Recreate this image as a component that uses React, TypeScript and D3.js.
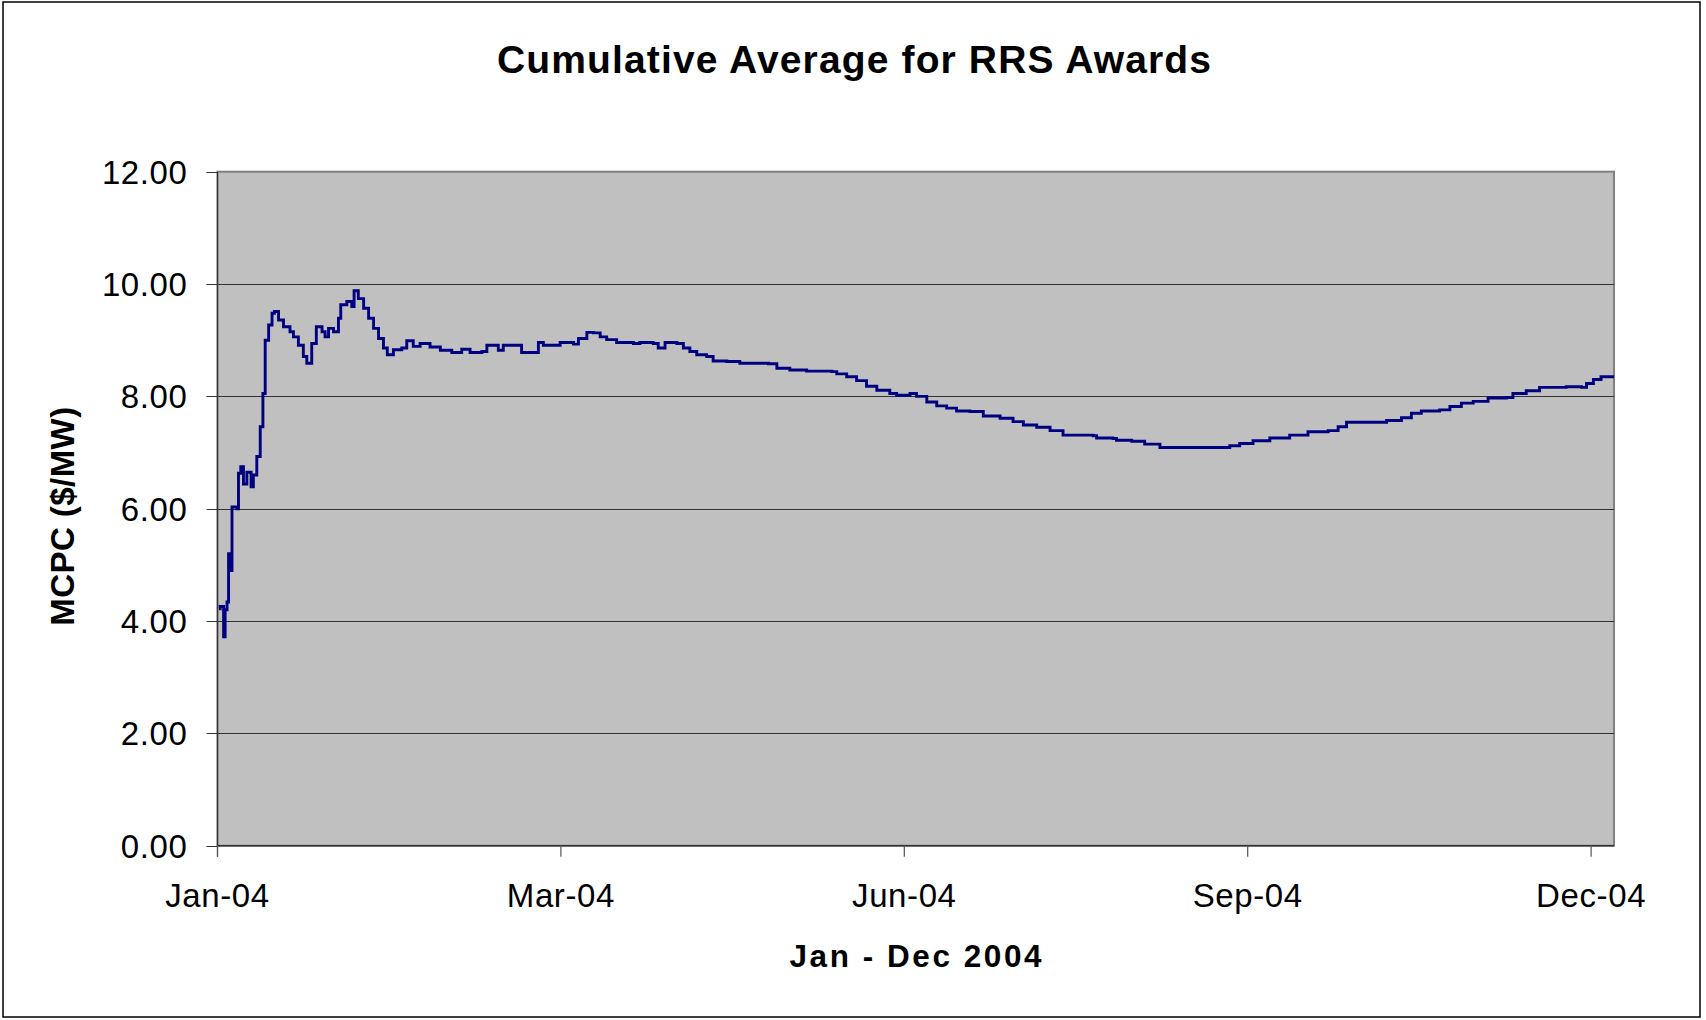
import React from "react";
import * as d3 from "d3";

// Day offsets from 2004-01-01 and cumulative average MCPC values ($/MW)
const dayOffsets: number[] = [
  0.4, 0.7, 1.6, 2.0, 2.5, 2.9, 3.5, 3.8, 5.1, 5.5, 6.1, 6.8, 7.7, 8.8, 9.4, 10.3, 11.2, 11.9,
  12.5, 13.4, 14.3, 14.9, 16.0, 17.3, 19.0, 19.9, 21.2, 22.5, 23.4, 24.1, 24.7, 25.9, 27.4, 28.2,
  29.1, 30.4, 31.7, 32.3, 33.9, 35.2, 35.8, 36.9, 38.3, 39.6, 40.9, 42.2, 43.5, 44.5, 46.1, 48.3,
  49.6, 51.3, 53.1, 55.7, 58.4, 61.4, 64.0, 66.2, 69.3, 70.6, 73.6, 74.9, 78.4, 79.7, 82.8, 84.1,
  85.4, 89.8, 93.3, 94.6, 96.8, 98.5, 100.3, 102.0, 104.6, 109.0, 110.7, 114.2, 115.5, 117.3, 120.4,
  122.1, 123.8, 125.6, 128.2, 129.9, 133.5, 136.9, 140.4, 144.4, 146.6, 150.0, 154.4, 161.0, 162.3,
  164.9, 167.5, 170.1, 172.8, 176.2, 178.0, 181.5, 183.2, 185.9, 188.5, 191.1, 193.7, 197.2, 200.7,
  205.1, 208.5, 211.2, 214.7, 218.2, 221.6, 229.5, 230.4, 234.7, 235.6, 239.6, 243.0, 247.0, 264.9,
  265.3, 267.9, 271.4, 275.8, 281.0, 285.8, 291.1, 293.7, 295.9, 306.4, 310.3, 312.9, 315.5, 320.3,
  323.0, 326.0, 329.1, 333.0, 337.8, 339.5, 343.0, 346.5, 353.5, 357.5, 358.8, 360.6, 362.6, 366.0,
];
const mcpcValues: number[] = [
  4.22, 4.26, 3.72, 4.2, 4.34, 5.2, 4.9, 6.03, 6.0, 6.63, 6.75, 6.44, 6.65, 6.39, 6.6, 6.93, 7.46, 8.05,
  9.0, 9.27, 9.48, 9.51, 9.36, 9.24, 9.15, 9.06, 8.91, 8.71, 8.59, 8.59, 8.94, 9.24, 9.15, 9.06,
  9.21, 9.15, 9.39, 9.63, 9.69, 9.6, 9.88, 9.74, 9.57, 9.39, 9.21, 9.03, 8.86, 8.74, 8.83, 8.86,
  8.99, 8.89, 8.94, 8.88, 8.82, 8.78, 8.84, 8.78, 8.8, 8.91, 8.82, 8.91, 8.91, 8.78, 8.78, 8.96,
  8.91, 8.96, 8.93, 9.03, 9.14, 9.13, 9.06, 9.01, 8.96, 8.94, 8.96, 8.94, 8.86, 8.96, 8.94,
  8.86, 8.8, 8.74, 8.71, 8.63, 8.62, 8.59, 8.59, 8.58, 8.5, 8.47, 8.45, 8.44, 8.4,
  8.35, 8.28, 8.18, 8.11, 8.05, 8.02, 8.05, 8.0, 7.9, 7.83, 7.79, 7.74, 7.73, 7.65,
  7.61, 7.55, 7.49, 7.45, 7.39, 7.31, 7.3, 7.26, 7.25, 7.22, 7.2, 7.15, 7.09, 7.09,
  7.12, 7.16, 7.21, 7.26, 7.31, 7.37, 7.39, 7.46, 7.54, 7.57, 7.62, 7.7, 7.74, 7.76,
  7.82, 7.88, 7.91, 7.97, 7.98, 8.05, 8.1, 8.16, 8.17, 8.16, 8.23, 8.3, 8.35, 8.35,
];

const yTickValues: number[] = [0, 2, 4, 6, 8, 10, 12];
const xTickDayOffsets: number[] = [0, 90, 180, 270, 360];

const titleText = "Cumulative Average for RRS Awards";
const yAxisTitle = "MCPC ($/MW)";
const xAxisTitle = "Jan - Dec 2004";

const FONT = "'Liberation Sans', Arial, Helvetica, sans-serif";

export default function App() {
  const W = 1706;
  const H = 1020;
  const left = 217.5;
  const right = 1614;
  const top = 171.7;
  const bottom = 845.7;

  const start = new Date(2004, 0, 1);
  const end = new Date(2005, 0, 1);
  const x = d3.scaleTime().domain([start, end]).range([left, right]);
  const y = d3.scaleLinear().domain([0, 12]).range([bottom, top]);

  const toDate = (d: number) => new Date(start.getTime() + d * 86400000);
  const data = dayOffsets.map((d, i) => ({ date: toDate(d), v: mcpcValues[i] }));

  const line = d3
    .line<{ date: Date; v: number }>()
    .x((d) => x(d.date))
    .y((d) => y(d.v))
    .curve(d3.curveStepAfter);

  const fmtX = d3.timeFormat("%b-%y");

  return (
    <svg
      width={W}
      height={H}
      style={{ position: "absolute", left: 0, top: 0, display: "block", background: "#fff" }}
      fontFamily={FONT}
    >
      <rect x={0} y={0} width={W} height={H} fill="#fff" />
      <rect x={3} y={2} width={1697} height={1015} fill="#fff" stroke="#000" strokeWidth={1.5} />

      <text
        x={854}
        y={73}
        textAnchor="middle"
        fontSize={39}
        fontWeight="bold"
        textLength={714}
        lengthAdjust="spacing"
      >
        {titleText}
      </text>

      {/* plot area */}
      <rect x={left} y={top} width={right - left} height={bottom - top} fill="#C0C0C0" stroke="#808080" strokeWidth={2} />

      {/* gridlines */}
      {yTickValues.filter((t) => t > 0 && t < 12).map((t) => (
        <line key={"g" + t} x1={left} x2={right} y1={Math.round(y(t)) + 0.5} y2={Math.round(y(t)) + 0.5} stroke="#333" strokeWidth={1} />
      ))}

      {/* data line */}
      <path d={line(data) || ""} fill="none" stroke="#000080" strokeWidth={2.9} strokeLinejoin="miter" />

      {/* axes */}
      <line x1={left} x2={left} y1={top} y2={bottom + 11} stroke="#333" strokeWidth={1.2} />
      <line x1={left} x2={right} y1={bottom} y2={bottom} stroke="#333" strokeWidth={1.5} />

      {yTickValues.map((t) => (
        <g key={"y" + t}>
          <line x1={left - 11} x2={left} y1={Math.round(y(t)) + 0.5} y2={Math.round(y(t)) + 0.5} stroke="#333" strokeWidth={1} />
          <text
            x={187.5}
            y={y(t)}
            dy="0.36em"
            textAnchor="end"
            fontSize={33}
            letterSpacing={0.6}
            fill="#000"
          >
            {t.toFixed(2)}
          </text>
        </g>
      ))}

      {xTickDayOffsets.map((d) => {
        const xx = x(toDate(d));
        return (
          <g key={"x" + d}>
            <line x1={xx} x2={xx} y1={bottom} y2={bottom + 11} stroke="#555" strokeWidth={1.2} />
            <text x={xx} y={906.5} textAnchor="middle" fontSize={33} letterSpacing={0.6} fill="#000">
              {fmtX(toDate(d))}
            </text>
          </g>
        );
      })}

      <text
        x={915.5}
        y={966.7}
        textAnchor="middle"
        fontSize={31.5}
        fontWeight="bold"
        textLength={252}
        lengthAdjust="spacing"
      >
        {xAxisTitle}
      </text>

      <text
        transform={`translate(74, 516.3) rotate(-90)`}
        textAnchor="middle"
        fontSize={33}
        fontWeight="bold"
        textLength={219}
        lengthAdjust="spacing"
      >
        {yAxisTitle}
      </text>
    </svg>
  );
}
